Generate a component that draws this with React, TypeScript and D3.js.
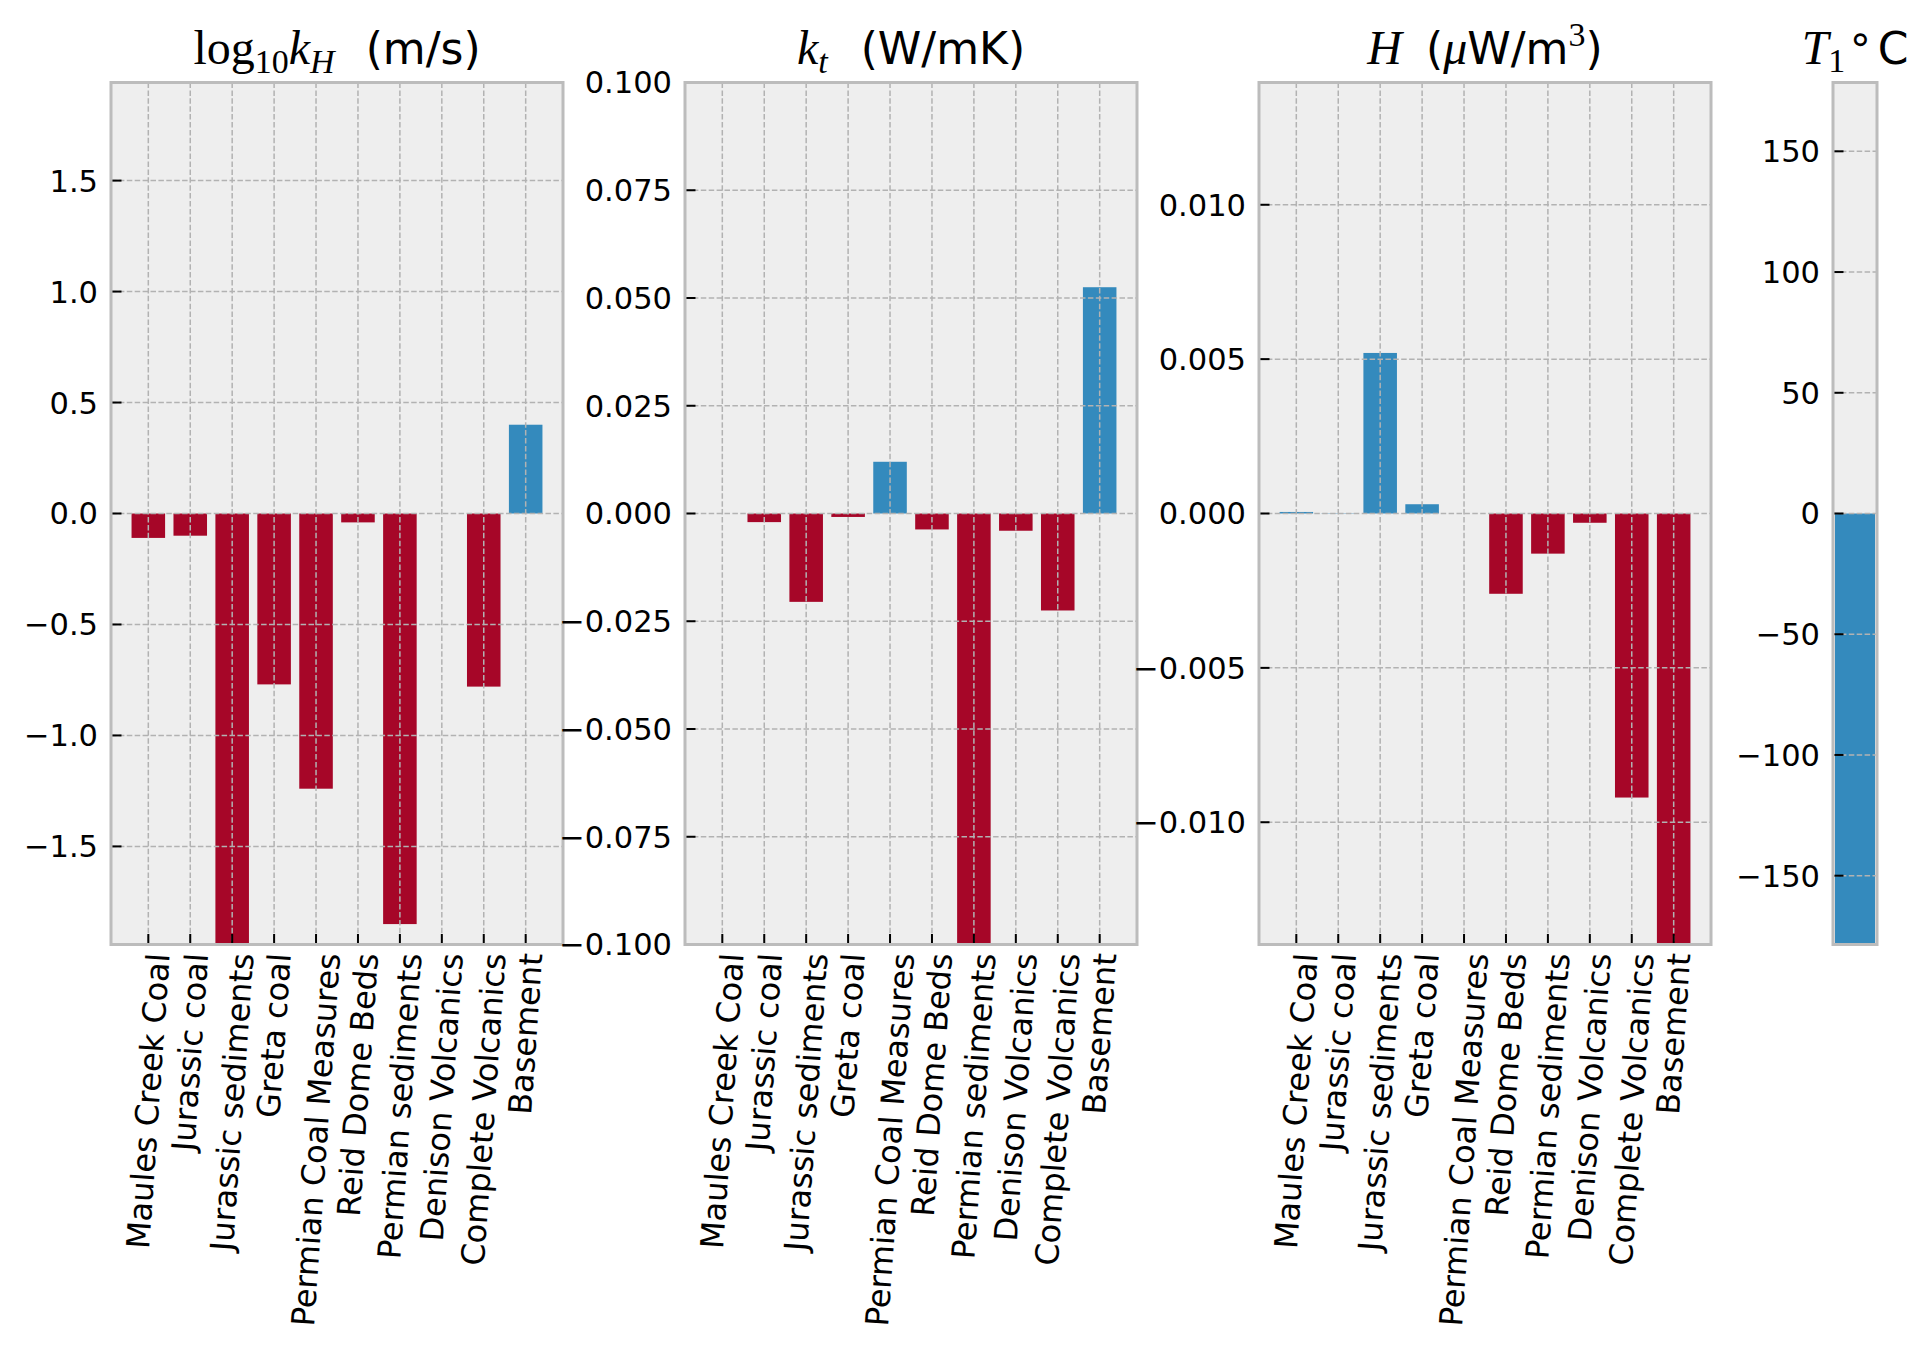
import * as d3 from "d3";
import { useEffect, useRef } from "react";

// layer names shared by the three property panels
const layers = [
  "Maules Creek Coal",
  "Jurassic coal",
  "Jurassic sediments",
  "Greta coal",
  "Permian Coal Measures",
  "Reid Dome Beds",
  "Permian sediments",
  "Denison Volcanics",
  "Complete Volcanics",
  "Basement",
];

// change in log10 hydraulic conductivity
const logKH = [-0.11, -0.1, -1.94, -0.77, -1.24, -0.04, -1.85, 0, -0.78, 0.4];
// change in thermal conductivity
const kt = [0, -0.002, -0.0205, -0.0008, 0.012, -0.0037, -0.1, -0.004, -0.0225, 0.0525];
// change in heat production
const heatH = [0.00005, 0.00001, 0.0052, 0.0003, 0, -0.0026, -0.0013, -0.0003, -0.0092, -0.01396];
// change in basal temperature
const T1 = [-178.5];

const kHTicks = [-1.5, -1, -0.5, 0, 0.5, 1, 1.5];
const ktTicks = [-0.1, -0.075, -0.05, -0.025, 0, 0.025, 0.05, 0.075, 0.1];
const hTicks = [-0.01, -0.005, 0, 0.005, 0.01];
const t1Ticks = [-150, -100, -50, 0, 50, 100, 150];

const kHLim = 1.942;
const ktLim = 0.1;
const hLim = 0.01396;
const t1Lim = 178.5;

const COLORS = {
  pos: "#348ABD",
  neg: "#A60628",
  face: "#eeeeee",
  edge: "#bcbcbc",
  grid: "#b2b2b2",
  text: "#000000",
};

const WIDTH = 1932;
const HEIGHT = 1350;
const TOP = 82.5;
const BOTTOM = 944.5;
const SANS = "'DejaVu Sans', sans-serif";
const SERIF = "'Liberation Serif', 'DejaVu Serif', serif";
const TICK_FS = 30.5;
const XLAB_FS = 32;
const XLAB_ROT = 86;
const TITLE_FS = 44;
const MATH_FS = 48;
const SUB_FS = 34;

interface Seg {
  t: string;
  font?: string;
  italic?: boolean;
  size?: number;
  dy?: number;
  dx?: number;
}

interface Panel {
  left: number;
  width: number;
  values: number[];
  ticks: number[];
  lim: number;
  fmt: (n: number) => string;
  labels: string[] | null;
  fill?: string;
  title: Seg[];
}

const panels: Panel[] = [
  {
    left: 111,
    width: 452,
    values: logKH,
    ticks: kHTicks,
    lim: kHLim,
    fmt: d3.format(".1f"),
    labels: layers,
    title: [
      { t: "log", font: SERIF, size: MATH_FS },
      { t: "10", font: SERIF, size: SUB_FS, dy: 9 },
      { t: "k", font: SERIF, italic: true, size: MATH_FS, dy: -9 },
      { t: "H", font: SERIF, italic: true, size: SUB_FS, dy: 9 },
      { t: "(m/s)", dy: -9, dx: 31 },
    ],
  },
  {
    left: 685,
    width: 452,
    values: kt,
    ticks: ktTicks,
    lim: ktLim,
    fmt: d3.format(".3f"),
    labels: layers,
    title: [
      { t: "k", font: SERIF, italic: true, size: MATH_FS },
      { t: "t", font: SERIF, italic: true, size: SUB_FS, dy: 9 },
      { t: "(W/mK)", dy: -9, dx: 33 },
    ],
  },
  {
    left: 1259,
    width: 452,
    values: heatH,
    ticks: hTicks,
    lim: hLim,
    fmt: d3.format(".3f"),
    labels: layers,
    title: [
      { t: "H", font: SERIF, italic: true, size: MATH_FS },
      { t: "(", dx: 24 },
      { t: "\u03bc", font: SERIF, italic: true, size: MATH_FS },
      { t: "W/m" },
      { t: "3", font: SERIF, size: SUB_FS, dy: -18 },
      { t: ")", dy: 18 },
    ],
  },
  {
    left: 1833,
    width: 44,
    values: T1,
    ticks: t1Ticks,
    lim: t1Lim,
    fmt: d3.format("d"),
    labels: null,
    fill: COLORS.pos,
    title: [
      { t: "T", font: SERIF, italic: true, size: MATH_FS },
      { t: "1", font: SERIF, size: SUB_FS, dy: 8 },
      { t: "\u2218", font: SANS, size: 42, dy: -19, dx: 2 },
      { t: "C", dy: 11, dx: 4 },
    ],
  },
];

function drawPanel(
  svg: d3.Selection<SVGSVGElement, unknown, null, undefined>,
  p: Panel
) {
  const g = svg.append("g");
  const n = p.values.length;
  const pad = 0.05 * (n - 1 + 0.8);
  const x = d3
    .scaleLinear()
    .domain([-0.4 - pad, n - 1 + 0.4 + pad])
    .range([p.left, p.left + p.width]);
  const y = d3.scaleLinear().domain([-p.lim, p.lim]).range([BOTTOM, TOP]);
  const idx = d3.range(n);
  const dash = "5.5,2.4";

  g.append("rect")
    .attr("x", p.left)
    .attr("y", TOP)
    .attr("width", p.width)
    .attr("height", BOTTOM - TOP)
    .attr("fill", COLORS.face);

  // bars
  g.selectAll("rect.bar")
    .data(p.values)
    .join("rect")
    .attr("class", "bar")
    .attr("x", (_, i) => x(i - 0.4))
    .attr("width", (_, i) => x(i + 0.4) - x(i - 0.4))
    .attr("y", (d) => y(Math.max(d, 0)))
    .attr("height", (d) => Math.abs(y(d) - y(0)))
    .attr("fill", (d) => p.fill ?? (d >= 0 ? COLORS.pos : COLORS.neg));

  // grid sits on top of the bars
  g.selectAll("line.hgrid")
    .data(p.ticks)
    .join("line")
    .attr("class", "hgrid")
    .attr("x1", p.left)
    .attr("x2", p.left + p.width)
    .attr("y1", (d) => y(d))
    .attr("y2", (d) => y(d))
    .attr("stroke", COLORS.grid)
    .attr("stroke-width", 1.5)
    .attr("stroke-dasharray", dash);

  if (p.labels) {
    g.selectAll("line.vgrid")
      .data(idx)
      .join("line")
      .attr("class", "vgrid")
      .attr("x1", (d) => x(d))
      .attr("x2", (d) => x(d))
      .attr("y1", TOP)
      .attr("y2", BOTTOM)
      .attr("stroke", COLORS.grid)
      .attr("stroke-width", 1.5)
      .attr("stroke-dasharray", dash);

    g.selectAll("line.xtick")
      .data(idx)
      .join("line")
      .attr("class", "xtick")
      .attr("x1", (d) => x(d))
      .attr("x2", (d) => x(d))
      .attr("y1", BOTTOM)
      .attr("y2", BOTTOM - 10.5)
      .attr("stroke", "#000")
      .attr("stroke-width", 2);
  }

  g.selectAll("line.ytick")
    .data(p.ticks)
    .join("line")
    .attr("class", "ytick")
    .attr("x1", p.left)
    .attr("x2", p.left + 10.5)
    .attr("y1", (d) => y(d))
    .attr("y2", (d) => y(d))
    .attr("stroke", "#000")
    .attr("stroke-width", 2);

  g.append("rect")
    .attr("x", p.left)
    .attr("y", TOP)
    .attr("width", p.width)
    .attr("height", BOTTOM - TOP)
    .attr("fill", "none")
    .attr("stroke", COLORS.edge)
    .attr("stroke-width", 3);

  // y tick labels
  g.selectAll("text.ylab")
    .data(p.ticks)
    .join("text")
    .attr("class", "ylab")
    .attr("x", p.left - 13)
    .attr("y", (d) => y(d))
    .attr("dy", "0.36em")
    .attr("text-anchor", "end")
    .attr("font-family", SANS)
    .attr("font-size", TICK_FS)
    .attr("fill", COLORS.text)
    .text((d) => p.fmt(d));

  // rotated x tick labels, bounding box centred under the tick
  if (p.labels) {
    const labelTop = 952;
    const h = XLAB_FS * 1.164;
    const c = Math.cos((XLAB_ROT * Math.PI) / 180);
    g.selectAll("text.xlab")
      .data(p.labels)
      .join("text")
      .attr("class", "xlab")
      .attr("text-anchor", "end")
      .attr("dominant-baseline", "central")
      .attr("font-family", SANS)
      .attr("font-size", XLAB_FS)
      .attr("fill", COLORS.text)
      .text((d) => d)
      .each(function (_, i) {
        const L = (this as SVGTextElement).getComputedTextLength();
        const ax = x(i) + (c * L) / 2;
        const ay = labelTop + (c * h) / 2;
        d3.select(this)
          .attr("x", 0)
          .attr("y", 0)
          .attr("transform", `translate(${ax},${ay}) rotate(${-XLAB_ROT})`);
      });
  }

  // title
  const title = g
    .append("text")
    .attr("x", p.left + p.width / 2)
    .attr("y", 64)
    .attr("text-anchor", "middle")
    .attr("fill", COLORS.text);
  p.title.forEach((s) => {
    title
      .append("tspan")
      .attr("font-family", s.font ?? SANS)
      .attr("font-style", s.italic ? "italic" : "normal")
      .attr("font-size", s.size ?? TITLE_FS)
      .attr("dy", s.dy ?? 0)
      .attr("dx", s.dx ?? 0)
      .text(s.t);
  });
}

const App = () => {
  const svgRef = useRef<SVGSVGElement | null>(null);

  useEffect(() => {
    document.body.style.margin = "0";
    if (!svgRef.current) return;
    const svg = d3.select(svgRef.current);
    svg.selectAll("*").remove();
    svg
      .append("rect")
      .attr("width", WIDTH)
      .attr("height", HEIGHT)
      .attr("fill", "#ffffff");
    panels.forEach((p) => drawPanel(svg, p));
  }, []);

  return (
    <svg
      ref={svgRef}
      width={WIDTH}
      height={HEIGHT}
      viewBox={`0 0 ${WIDTH} ${HEIGHT}`}
      style={{ display: "block" }}
    />
  );
};

export default App;
